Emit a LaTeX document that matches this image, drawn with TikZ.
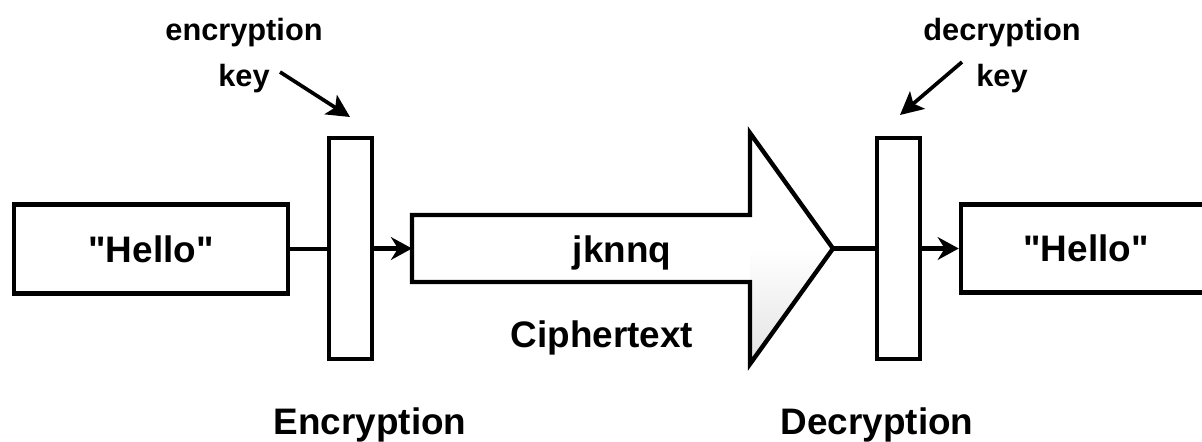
\documentclass[tikz,border=0pt]{standalone}
\usepackage{fontspec}
\setmainfont{Liberation Sans}[Ligatures=TeXOff]
\usepackage{tikz}
\usetikzlibrary{arrows.meta,positioning,calc}

\begin{document}
\begin{tikzpicture}[
  x=0.02cm, y=-0.02cm,
  >={Stealth[length=12pt,width=13pt,inset=4pt]},
  every node/.style={font=\bfseries\fontsize{21}{25}\selectfont},
  msgbox/.style={rectangle, draw, line width=2.6pt, minimum width=5.48cm,
    minimum height=1.77cm, inner sep=0pt},
  keybox/.style={rectangle, draw, line width=2.6pt, minimum width=0.86cm,
    minimum height=4.42cm, inner sep=0pt},
  cipher/.style={draw, line width=2.5pt},
  flow/.style={->, line width=2.4pt},
  keyarrow/.style={-{Stealth[length=13pt,width=13pt,inset=3pt]}, line width=2.1pt},
  keylabel/.style={font=\bfseries\fontsize{17.5}{26.6}\selectfont, align=center},
  caption/.style={anchor=base},
]
\useasboundingbox (0,0) rectangle (1202,442);
\clip (0,0) rectangle (1202,442);

% Plaintext in, keys, plaintext out
\node[msgbox] (plain) at (151,249) {"Hello"};
\node[keybox] (enc) at (350.5,248.5) {};
\node[keybox] (dec) at (898.5,248.5) {};
\node[msgbox, minimum width=5cm] (decoded) at (1086,248.5) {"Hello"};

% Ciphertext arrow
\coordinate (ctail) at (412,248.5);
\coordinate (ctip) at (833,248.5);
\shade[top color=white, bottom color=gray!22] (750,248.5) -- (ctip) -- (750,364) -- cycle;
\draw[cipher] (412,215) -- (750,215) -- (750,133) -- (ctip) -- (750,364)
  -- (750,282) -- (412,282) -- cycle;
\node[caption] (cword) at (622,262) {jknnq};
\node[caption] (ctext) at (602,347) {Ciphertext};

% Key labels
\node[keylabel, anchor=base] (enckey) at (244,87) {encryption\\key};
\node[keylabel, anchor=base] (deckey) at (1002,87) {decryption\\key};
\coordinate (enctail) at (280,72);
\coordinate (enctip) at (350,117);
\coordinate (dectail) at (962,62);
\coordinate (dectip) at (900,115);

% Step labels
\node[caption] (enclbl) at (370,434) {Encryption};
\node[caption] (declbl) at (877,434) {Decryption};

% Flow
\draw[line width=2.4pt] (plain.east) -- (plain.east -| enc.west);
\draw[flow] (enc.east |- ctail) -- (ctail);
\draw[line width=2.4pt] (ctip) -- (ctip -| dec.west);
\draw[flow] (dec.east |- decoded.west) -- (decoded.west);
\draw[keyarrow] (enctail) -- (enctip);
\draw[keyarrow] (dectail) -- (dectip);

\end{tikzpicture}
\end{document}
